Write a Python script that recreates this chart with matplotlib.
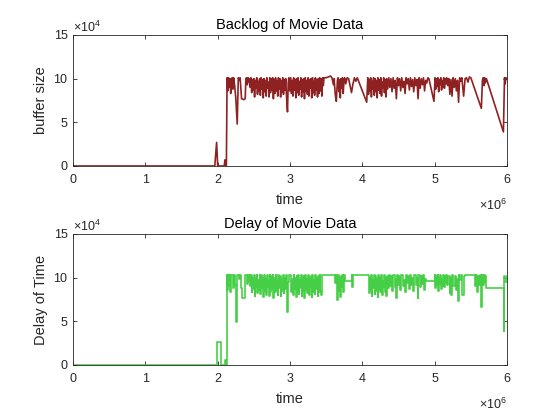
import matplotlib
matplotlib.use("Agg")
import matplotlib.pyplot as plt

plt.rcParams['font.family'] = ['Liberation Sans', 'DejaVu Sans']
plt.rcParams['mathtext.fontset'] = 'custom'
plt.rcParams['mathtext.rm'] = 'Liberation Sans'

# time in units of 1e6, values in units of 1e4
backlog_t = [
    0, 1.96, 1.985, 2.0, 2.09, 2.10, 2.11, 2.12, 2.13,
    2.14, 2.15, 2.16, 2.17, 2.18, 2.19, 2.20, 2.21, 2.22, 2.235, 2.25, 2.27, 2.285,
    2.30, 2.31, 2.32, 2.33, 2.36, 2.38, 2.39, 2.40, 2.41, 2.42, 2.43, 2.44, 2.45,
    2.46, 2.47, 2.48, 2.49, 2.50, 2.51, 2.52, 2.53, 2.54, 2.55, 2.56, 2.57, 2.58,
    2.59, 2.60, 2.61, 2.62, 2.63, 2.64, 2.65, 2.66, 2.67, 2.68, 2.69, 2.70, 2.71,
    2.72, 2.73, 2.74, 2.75, 2.76, 2.77, 2.78, 2.79, 2.80, 2.81, 2.82, 2.83, 2.84,
    2.85, 2.86, 2.87, 2.88, 2.89, 2.90, 2.91, 2.92, 2.93, 2.94, 2.955, 2.965, 2.975,
    2.985, 2.995,
    3.01, 3.02, 3.03, 3.04, 3.05, 3.06, 3.07, 3.08, 3.09, 3.10, 3.11, 3.12, 3.13,
    3.14, 3.15, 3.16, 3.17, 3.18, 3.19, 3.20, 3.21, 3.22, 3.23, 3.24, 3.25, 3.26,
    3.27, 3.28, 3.29, 3.30, 3.31, 3.32, 3.33, 3.34, 3.35, 3.36, 3.37, 3.38, 3.39,
    3.40, 3.41, 3.42, 3.43, 3.44, 3.45,
    3.46, 3.47, 3.50, 3.53, 3.56, 3.58, 3.60, 3.61, 3.625, 3.64, 3.655, 3.665, 3.675,
    3.685, 3.695, 3.705, 3.715, 3.725, 3.735, 3.745, 3.755, 3.77, 3.79, 3.81, 3.83,
    3.85, 3.87, 3.89, 3.91, 3.93, 4.06,
    4.075, 4.085, 4.095, 4.105, 4.115, 4.125, 4.135, 4.145, 4.155, 4.165, 4.175,
    4.185, 4.195, 4.205, 4.215, 4.225, 4.235, 4.245, 4.255, 4.265, 4.275, 4.285,
    4.295, 4.305, 4.315, 4.325, 4.335, 4.35, 4.365, 4.38, 4.395, 4.41, 4.425, 4.44,
    4.455, 4.47, 4.485, 4.50, 4.515, 4.53, 4.545, 4.56, 4.575, 4.59, 4.605, 4.62,
    4.635, 4.65, 4.665, 4.68, 4.695, 4.71, 4.725,
    4.74, 4.755, 4.77, 4.785, 4.80, 4.815, 4.83, 4.845, 4.86, 4.875, 4.89, 4.905,
    4.92, 4.99, 5.005, 5.015, 5.025, 5.035, 5.045, 5.055, 5.065, 5.075, 5.085, 5.095,
    5.105, 5.115, 5.125, 5.135, 5.145, 5.155, 5.165, 5.18, 5.195, 5.21, 5.225, 5.24,
    5.255, 5.27, 5.285, 5.30, 5.315, 5.33, 5.345, 5.36, 5.375, 5.40, 5.42, 5.44,
    5.46, 5.48, 5.50, 5.645, 5.66, 5.67, 5.68, 5.69, 5.70, 5.715, 5.95, 5.965,
    5.975, 5.985, 6.0,
]
backlog_v = [
    0, 0, 2.7, 0, 0, 0.7, 0, 0, 10.1,
    8.6, 10.1, 9.0, 10.0, 8.3, 9.8, 10.1, 8.8, 10.1, 9.2, 7.8, 4.8, 10.1,
    9.8, 10.1, 8.8, 7.7, 7.6, 7.7, 10.0, 10.1, 9.3, 10.1, 9.6, 10.0, 9.0,
    10.1, 8.4, 9.9, 8.7, 10.0, 7.9, 9.8, 8.9, 10.1, 8.2, 9.7, 8.6, 10.0,
    8.1, 10.1, 8.8, 9.9, 7.8, 10.0, 8.5, 9.8, 8.0, 10.1, 8.9, 9.6, 7.9,
    10.1, 8.4, 10.0, 8.7, 10.1, 7.7, 9.9, 8.3, 10.1, 8.6, 9.7, 8.0, 10.1,
    8.8, 10.0, 7.9, 9.8, 8.5, 10.1, 8.2, 9.9, 8.7, 10.0, 7.4, 6.2, 9.5,
    10.1, 8.6,
    10.1, 8.3, 9.8, 8.0, 10.1, 8.7, 9.9, 7.8, 10.0, 8.4, 10.1, 8.1, 9.7,
    8.8, 10.1, 7.9, 9.9, 8.5, 10.0, 7.7, 10.1, 8.6, 9.8, 8.2, 10.1, 8.0,
    9.9, 8.9, 10.0, 7.8, 10.1, 8.4, 9.7, 8.1, 10.1, 8.7, 9.9, 7.9, 10.0,
    8.3, 10.1, 8.6, 10.0, 8.0, 10.1,
    9.2, 10.1, 10.1, 10.2, 10.3, 10.1, 9.3, 10.0, 8.2, 7.4, 9.8, 10.1, 8.5,
    9.9, 7.8, 10.0, 8.9, 10.1, 8.3, 9.6, 10.1, 9.4, 10.1, 10.0, 9.2,
    8.4, 9.4, 10.1, 9.7, 10.1, 7.3,
    10.1, 8.2, 9.9, 8.6, 10.1, 7.9, 9.7, 8.8, 10.1, 8.1, 10.0,
    8.5, 9.8, 7.8, 10.1, 8.7, 9.9, 8.3, 10.1, 8.0, 9.6, 8.9,
    10.1, 8.4, 9.9, 7.9, 10.0, 8.8, 10.1, 9.0, 10.0, 8.5, 10.1, 8.9,
    9.8, 7.7, 10.1, 9.2, 10.0, 8.6, 10.1, 9.0, 9.7, 8.3, 10.1, 9.4,
    10.0, 8.7, 10.1, 9.1, 9.9, 8.5, 10.1,
    9.2, 9.9, 7.7, 10.1, 8.9, 10.0, 9.3, 10.1, 8.6, 9.8, 9.5, 10.1,
    10.0, 7.4, 10.1, 8.8, 10.0, 9.1, 10.1, 8.5, 9.9, 9.3, 10.1, 8.7,
    9.8, 9.0, 10.1, 8.9, 10.0, 9.4, 10.1, 9.2, 10.0, 8.2, 9.9, 8.0,
    10.1, 9.0, 10.0, 8.6, 9.8, 7.3, 10.1, 9.7, 10.1, 8.0, 10.0, 10.1,
    9.6, 10.2, 10.1, 6.6, 9.8, 10.1, 9.2, 10.1, 9.5, 10.0, 3.9, 10.1,
    9.4, 10.1, 10.0,
]

delay_t = [
    0, 1.985, 2.04, 2.095, 2.11, 2.125,
    2.135, 2.145, 2.155, 2.165, 2.175, 2.19, 2.21, 2.22, 2.235, 2.25, 2.26, 2.27,
    2.30, 2.31, 2.32, 2.33, 2.38, 2.41, 2.42, 2.43, 2.44, 2.45,
    2.46, 2.47, 2.48, 2.49, 2.50, 2.51, 2.52, 2.53, 2.54, 2.55, 2.56, 2.57, 2.58,
    2.59, 2.60, 2.61, 2.62, 2.63, 2.64, 2.65, 2.66, 2.67, 2.68, 2.69, 2.70, 2.71,
    2.72, 2.73, 2.74, 2.75, 2.76, 2.77, 2.78, 2.79, 2.80, 2.81, 2.82, 2.83, 2.84,
    2.85, 2.86, 2.87, 2.88, 2.89, 2.90, 2.91, 2.92, 2.93, 2.95, 2.96, 2.97, 2.99,
    3.01, 3.02, 3.03, 3.04, 3.05, 3.06, 3.07, 3.08, 3.09, 3.10, 3.11, 3.12, 3.13,
    3.14, 3.15, 3.16, 3.17, 3.18, 3.19, 3.20, 3.21, 3.22, 3.23, 3.24, 3.25, 3.26,
    3.27, 3.28, 3.29, 3.30, 3.31, 3.32, 3.33, 3.34, 3.35, 3.36, 3.37, 3.38, 3.39,
    3.40, 3.41, 3.42, 3.43, 3.44,
    3.62, 3.635, 3.65, 3.665, 3.675, 3.685, 3.695, 3.705, 3.715, 3.725, 3.735,
    3.745, 3.76, 3.85, 3.86, 3.87,
    4.08, 4.09, 4.10, 4.11, 4.12, 4.13, 4.14, 4.15, 4.16, 4.17, 4.18, 4.19, 4.20,
    4.21, 4.22, 4.23, 4.24, 4.25, 4.26, 4.27, 4.28, 4.29, 4.30, 4.31, 4.32, 4.33,
    4.34, 4.355, 4.37, 4.385, 4.40, 4.415, 4.43, 4.445, 4.46, 4.47, 4.48, 4.495,
    4.51, 4.525, 4.54, 4.555, 4.57, 4.585, 4.60, 4.615, 4.63, 4.645, 4.66, 4.675,
    4.69, 4.705, 4.72, 4.735, 4.75, 4.765, 4.775, 4.79, 4.805, 4.82, 4.835, 4.85,
    4.865, 4.88, 4.90, 5.00,
    5.01, 5.02, 5.03, 5.04, 5.05, 5.06, 5.07, 5.08, 5.09, 5.10, 5.11, 5.12, 5.13,
    5.14, 5.15, 5.16, 5.175, 5.19, 5.205, 5.215, 5.23, 5.245, 5.26, 5.275, 5.29,
    5.305, 5.32, 5.33, 5.34, 5.36, 5.38, 5.40, 5.42, 5.44, 5.56, 5.575, 5.59,
    5.60, 5.615, 5.63, 5.645, 5.655, 5.67, 5.68, 5.69, 5.70, 5.715, 5.955, 5.965,
    5.975, 6.0,
]
delay_v = [
    0, 2.65, 0, 0.6, 0, 10.3,
    8.6, 10.3, 9.0, 10.3, 8.3, 10.3, 8.8, 10.3, 9.2, 7.8, 4.9, 10.3,
    9.8, 10.3, 8.8, 7.7, 10.3, 9.3, 10.3, 9.6, 10.3, 9.0,
    10.3, 8.4, 9.9, 8.7, 10.3, 7.9, 9.8, 8.9, 10.3, 8.2, 9.7, 8.6, 10.3,
    8.1, 10.3, 8.8, 9.9, 7.8, 10.3, 8.5, 9.8, 8.0, 10.3, 8.9, 9.6, 7.9,
    10.3, 8.4, 10.2, 8.7, 10.3, 7.7, 9.9, 8.3, 10.3, 8.6, 9.7, 8.0, 10.3,
    8.8, 10.2, 7.9, 9.8, 8.5, 10.3, 8.2, 9.9, 8.7, 10.3, 6.1, 9.5, 10.3,
    10.3, 8.3, 9.8, 8.0, 10.3, 8.7, 9.9, 7.8, 10.2, 8.4, 10.3, 8.1, 9.7,
    8.8, 10.3, 7.9, 9.9, 8.5, 10.2, 7.7, 10.3, 8.6, 9.8, 8.2, 10.3, 8.0,
    9.9, 8.9, 10.2, 7.8, 10.3, 8.4, 9.7, 8.1, 10.3, 8.7, 9.9, 7.9, 10.2,
    8.3, 10.3, 8.6, 8.0, 10.3,
    9.4, 10.3, 7.4, 10.3, 8.5, 9.9, 7.8, 10.2, 8.9, 10.3, 8.3,
    10.3, 9.6, 10.3, 8.9, 10.3,
    10.3, 8.2, 9.9, 8.6, 10.3, 7.9, 9.7, 8.8, 10.3, 8.1, 10.2, 8.5, 9.8,
    7.8, 10.3, 8.7, 9.9, 8.3, 10.3, 8.0, 9.6, 8.9, 10.3, 8.4, 9.9, 7.9,
    10.2, 8.8, 10.3, 9.0, 10.2, 8.5, 10.3, 8.9, 9.8, 7.7, 10.3, 9.2,
    10.2, 8.6, 10.3, 9.0, 9.7, 8.3, 10.3, 9.4, 10.2, 8.7, 10.3, 9.1,
    9.9, 8.5, 10.3, 9.2, 9.9, 7.7, 10.3, 8.9, 10.2, 9.3, 10.3, 8.6,
    9.8, 9.6, 9.6, 10.3,
    8.8, 10.2, 9.1, 10.3, 8.5, 9.9, 9.3, 10.3, 8.7, 9.8, 9.0, 10.3, 8.9,
    10.2, 9.4, 10.3, 9.2, 10.2, 8.2, 9.9, 8.0, 10.3, 9.0, 10.2, 8.6,
    9.8, 7.3, 10.3, 9.7, 10.3, 8.0, 10.2, 10.3, 10.3, 9.0, 10.3, 8.4,
    10.2, 9.1, 10.3, 6.6, 10.3, 9.2, 10.3, 9.5, 10.2, 8.8, 3.9, 10.2,
    9.5, 10.2,
]

x_ticks = [0, 1, 2, 3, 4, 5, 6]
y_ticks = [0, 5, 10, 15]

fig = plt.figure(figsize=(5.6, 4.2), dpi=100)
ax1 = fig.add_axes([0.1304, 0.6048, 0.775, 0.3119])
ax2 = fig.add_axes([0.1304, 0.131, 0.775, 0.312])

ax1.plot([t * 1e6 for t in backlog_t], [v * 1e4 for v in backlog_v],
         color='#8e2222', linewidth=1.2)
ax2.plot([t * 1e6 for t in delay_t], [v * 1e4 for v in delay_v],
         color='#46cf46', linewidth=1.2, drawstyle='steps-post')

panels = [(ax1, "Backlog of Movie Data", "buffer size"),
          (ax2, "Delay of Movie Data", "Delay of Time")]
for ax, title, ylabel in panels:
    ax.set_xlim(0, 6e6)
    ax.set_ylim(0, 15e4)
    ax.set_xticks([x * 1e6 for x in x_ticks])
    ax.set_xticklabels([str(x) for x in x_ticks])
    ax.set_yticks([y * 1e4 for y in y_ticks])
    ax.set_yticklabels([str(y) for y in y_ticks])
    ax.tick_params(direction='in', length=3, width=0.6, top=True, right=True,
                   labelsize=9, colors='#262626')
    ax.tick_params(axis='x', pad=6)
    ax.tick_params(axis='y', pad=4)
    for s in ax.spines.values():
        s.set_linewidth(0.6)
        s.set_color('#262626')
    ax.set_title(title, fontsize=10.5, color='black', pad=4)
    ax.set_xlabel("time", fontsize=10.5, color='#262626', labelpad=5)
    ax.set_ylabel(ylabel, fontsize=10.5, color='#262626', labelpad=4)
    ax.text(0.0, 1.0, r'$\times10^{4}$', transform=ax.transAxes,
            fontsize=9, color='#262626', ha='left', va='bottom')
    ax.text(1.0, -0.24, r'$\times10^{6}$', transform=ax.transAxes,
            fontsize=9, color='#262626', ha='right', va='top')

fig.savefig("out.png", dpi=100)
